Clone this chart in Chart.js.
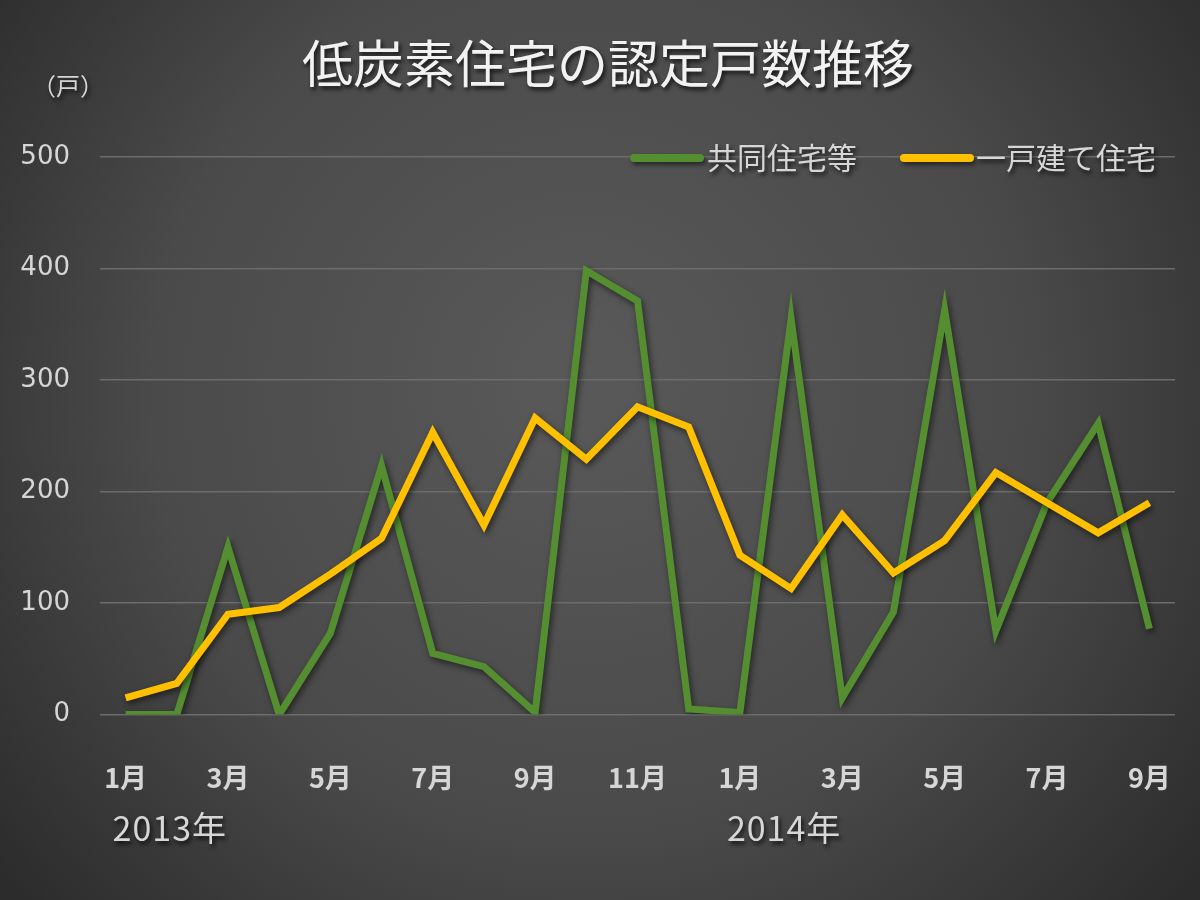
<!DOCTYPE html>
<html lang="ja">
<head>
<meta charset="utf-8">
<title>低炭素住宅の認定戸数推移</title>
<script src="https://cdn.jsdelivr.net/npm/chart.js@4.4.1/dist/chart.umd.min.js"></script>
<style>
  html, body { margin: 0; padding: 0; background: #3a3a3a; }
  #wrap { width: 1200px; height: 900px; }
</style>
</head>
<body>
<div id="wrap"><canvas id="chart" width="1200" height="900"></canvas></div>
<script>
// months Jan 2013 .. Sep 2014
const monthLabels = [
  '1月', '2月', '3月', '4月', '5月', '6月', '7月', '8月', '9月', '10月', '11月', '12月',
  '1月', '2月', '3月', '4月', '5月', '6月', '7月', '8月', '9月'
];
const yearLabels = ['2013年', '2014年'];
const yearStartIndex = [0, 12];

const seriesNames = ['共同住宅等', '一戸建て住宅'];
const apartmentValues = [0, 0, 150, 0, 73, 223, 55, 43, 2, 398, 371, 5, 2, 355, 15, 92, 363, 75, 190, 261, 77];
const houseValues = [15, 28, 90, 96, 126, 158, 253, 170, 266, 229, 276, 258, 143, 113, 179, 127, 156, 217, 190, 163, 190];

const chartTitle = '低炭素住宅の認定戸数推移';
const unitLabel = '（戸）';

const GREEN = '#548e30';
const YELLOW = '#ffc000';
const TEXT = '#d6d6d6';
const JP_FONT = '"Noto Sans CJK JP", "Noto Sans", sans-serif';

// background, title, unit, legend and year row
const decorPlugin = {
  id: 'decor',
  beforeDraw(chart) {
    const ctx = chart.ctx;
    const w = chart.width, h = chart.height;
    ctx.save();
    const g = ctx.createRadialGradient(w * 0.48, h * 0.42, 40, w * 0.5, h * 0.45, 760);
    g.addColorStop(0, '#585858');
    g.addColorStop(0.55, '#4a4a4a');
    g.addColorStop(1, '#2c2c2c');
    ctx.fillStyle = g;
    ctx.fillRect(0, 0, w, h);
    ctx.restore();
  },
  afterDraw(chart) {
    const ctx = chart.ctx;
    const xScale = chart.scales.x;
    ctx.save();
    ctx.shadowColor = 'rgba(0,0,0,0.75)';
    ctx.shadowOffsetX = 2;
    ctx.shadowOffsetY = 3;
    ctx.shadowBlur = 4;

    // title
    ctx.fillStyle = '#f2f2f2';
    ctx.font = '51px ' + JP_FONT;
    ctx.textAlign = 'center';
    ctx.textBaseline = 'middle';
    ctx.fillText(chartTitle, 608, 64);

    // unit
    ctx.fillStyle = TEXT;
    ctx.font = '24px ' + JP_FONT;
    ctx.textAlign = 'left';
    ctx.fillText(unitLabel, 32, 86);

    // year row
    ctx.font = '34px ' + JP_FONT;
    ctx.letterSpacing = '1px';
    yearLabels.forEach((label, i) => {
      const x = xScale.getPixelForValue(yearStartIndex[i]);
      ctx.fillText(label, x - 13, 828);
    });
    ctx.letterSpacing = '0px';

    // legend
    ctx.font = '30px ' + JP_FONT;
    const legendY = 158;
    const items = [
      { x: 630, textX: 707, color: chart.data.datasets[0].borderColor, text: chart.data.datasets[0].label },
      { x: 900, textX: 976, color: chart.data.datasets[1].borderColor, text: chart.data.datasets[1].label }
    ];
    items.forEach(item => {
      ctx.shadowColor = 'rgba(0,0,0,0.5)';
      ctx.strokeStyle = item.color;
      ctx.lineWidth = 8;
      ctx.lineCap = 'round';
      ctx.beginPath();
      ctx.moveTo(item.x + 4, legendY);
      ctx.lineTo(item.x + 70, legendY);
      ctx.stroke();
      ctx.shadowColor = 'rgba(0,0,0,0.75)';
      ctx.fillStyle = TEXT;
      ctx.fillText(item.text, item.textX, legendY);
    });
    ctx.restore();
  },
  beforeDatasetDraw(chart) {
    const ctx = chart.ctx;
    ctx.save();
    ctx.shadowColor = 'rgba(0,0,0,0.55)';
    ctx.shadowBlur = 6;
    ctx.shadowOffsetX = 2;
    ctx.shadowOffsetY = 3;
  },
  afterDatasetDraw(chart) {
    chart.ctx.restore();
  }
};

const chart = new Chart(document.getElementById('chart'), {
  type: 'line',
  data: {
    labels: monthLabels,
    datasets: [
      {
        label: seriesNames[0],
        data: apartmentValues,
        borderColor: GREEN,
        borderWidth: 7,
        pointRadius: 0,
        tension: 0,
        order: 2
      },
      {
        label: seriesNames[1],
        data: houseValues,
        borderColor: YELLOW,
        borderWidth: 7,
        pointRadius: 0,
        tension: 0,
        order: 1
      }
    ]
  },
  options: {
    responsive: false,
    animation: false,
    layout: { padding: { top: 157, right: 25, bottom: 104, left: 0 } },
    plugins: {
      legend: { display: false },
      tooltip: { enabled: false },
      title: { display: false }
    },
    scales: {
      x: {
        offset: true,
        // invisible ticks make the gap under the plot without side padding
        grid: { display: true, drawOnChartArea: false, drawTicks: true, tickLength: 45, color: 'rgba(0,0,0,0)' },
        border: { display: false },
        ticks: {
          autoSkip: false,
          maxRotation: 0,
          minRotation: 0,
          padding: 2,
          color: TEXT,
          font: { family: JP_FONT, size: 27, weight: 'bold' },
          callback: function (value, index) {
            return index % 2 === 0 ? this.getLabelForValue(value) : '';
          }
        }
      },
      y: {
        min: 0,
        max: 500,
        afterFit(scale) { scale.width = 100; },
        grid: { color: '#6c6c6c', lineWidth: 1.5, drawTicks: false },
        border: { display: false },
        ticks: {
          stepSize: 100,
          padding: 30,
          color: TEXT,
          font: { family: '"DejaVu Sans", sans-serif', size: 26 }
        }
      }
    }
  },
  plugins: [decorPlugin]
});
</script>
</body>
</html>
